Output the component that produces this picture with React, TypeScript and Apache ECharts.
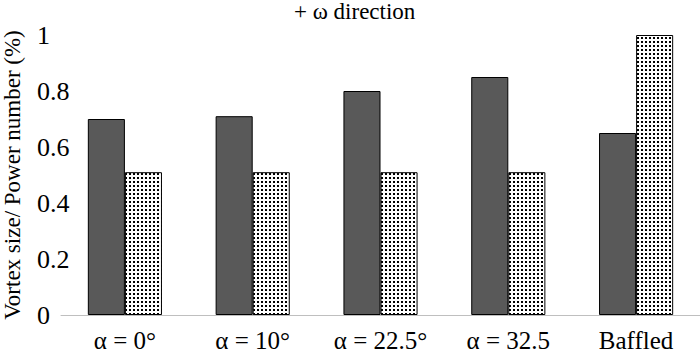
import React, { useEffect, useRef } from "react";
import * as echarts from "echarts";

const categories = ["α = 0°", "α = 10°", "α = 22.5°", "α = 32.5", "Baffled"];
const vortexSize = [0.7, 0.71, 0.8, 0.85, 0.65];
const powerNumber = [0.51, 0.51, 0.51, 0.51, 1.0];
const yTicks = { min: 0, max: 1, interval: 0.2 };
const titleText = "+ ω direction";
const yAxisTitle = "Vortex size/ Power number (%)";

function makeDotPattern(): HTMLCanvasElement {
  const c = document.createElement("canvas");
  c.width = 4;
  c.height = 4;
  const ctx = c.getContext("2d")!;
  ctx.fillStyle = "#ffffff";
  ctx.fillRect(0, 0, 4, 4);
  ctx.fillStyle = "#000000";
  ctx.fillRect(1, 1, 2, 2);
  return c;
}

export default function App() {
  const ref = useRef<HTMLDivElement>(null);
  useEffect(() => {
    if (!ref.current) return;
    const chart = echarts.init(ref.current, null, { renderer: "svg" });
    const font = "Times New Roman, Liberation Serif, DejaVu Serif, serif";
    chart.setOption({
      animation: false,
      backgroundColor: "#ffffff",
      textStyle: { fontFamily: font },
      grid: { left: 61, right: 0, top: 35, bottom: 40, outerBoundsMode: "none", containLabel: false },
      graphic: [
        {
          type: "text",
          left: 294,
          top: 0,
          style: {
            text: titleText,
            fontFamily: font,
            fontSize: 23,
            fill: "#000",
          },
        },
      ],
      xAxis: {
        type: "category",
        data: categories,
        axisLine: { show: true, lineStyle: { color: "#bfbfbf", width: 1 } },
        axisTick: { show: false },
        axisLabel: { color: "#000", fontFamily: font, fontSize: 25, margin: 13, interval: 0 },
      },
      yAxis: {
        type: "value",
        min: yTicks.min,
        max: yTicks.max,
        interval: yTicks.interval,
        splitLine: { show: false },
        axisLine: { show: false },
        axisTick: { show: false },
        axisLabel: { color: "#000", fontFamily: font, fontSize: 26, align: "left", margin: 24 },
        name: yAxisTitle,
        nameLocation: "middle",
        nameRotate: 90,
        nameGap: 37,
        nameTextStyle: { color: "#000", fontFamily: font, fontSize: 23 },
      },
      series: [
        {
          type: "bar",
          data: vortexSize,
          barGap: "0%",
          barCategoryGap: "42%",
          itemStyle: { color: "#595959", borderColor: "#000", borderWidth: 1 },
        },
        {
          type: "bar",
          data: powerNumber,
          itemStyle: {
            color: { image: makeDotPattern(), repeat: "repeat" },
            borderColor: "#000",
            borderWidth: 1,
          },
        },
      ],
    });
    return () => chart.dispose();
  }, []);
  return (
    <div
      ref={ref}
      style={{ position: "fixed", left: 0, top: 0, width: 700, height: 355 }}
    />
  );
}
